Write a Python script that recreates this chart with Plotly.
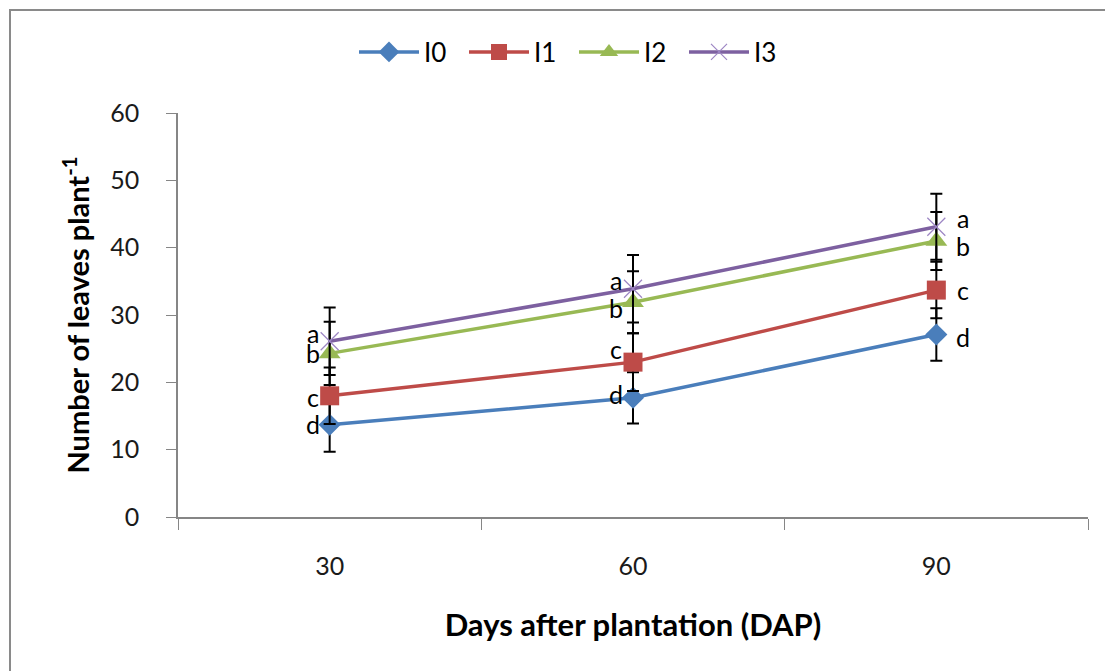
import plotly.graph_objects as go

days = ["30", "60", "90"]
series_names = ["I0", "I1", "I2", "I3"]
i0 = [13.7, 17.7, 27.1]
i1 = [18.0, 23.0, 33.7]
i2 = [24.3, 31.9, 41.0]
i3 = [26.1, 33.9, 43.1]
i0_err = [4.0, 3.8, 3.9]
i1_err = [4.2, 4.3, 4.2]
i2_err = [4.7, 4.6, 4.3]
i3_err = [5.0, 5.0, 4.9]
letters = {"I0": ["d", "d", "d"], "I1": ["c", "c", "c"], "I2": ["b", "b", "b"], "I3": ["a", "a", "a"]}

values = {"I0": i0, "I1": i1, "I2": i2, "I3": i3}
errors = {"I0": i0_err, "I1": i1_err, "I2": i2_err, "I3": i3_err}
colors = {"I0": "#4A7EBB", "I1": "#BE4B48", "I2": "#98B954", "I3": "#7D60A0"}
markers = {
    "I0": dict(symbol="diamond", size=17),
    "I1": dict(symbol="square", size=19),
    "I2": dict(symbol="triangle-up", size=19),
    "I3": dict(symbol="x-thin", size=18, line=dict(width=1.2, color="#9D86C4")),
}
# label pixel offsets (style only)
lab_dx = [-17, -17, 27]
lab_dy = {"I0": [1, 4, -2], "I1": [-1, 13, 0], "I2": [0, -6, -5], "I3": [8, 9, 9]}

FONT = "Lato, Open Sans, sans-serif"

fig = go.Figure()
for name in series_names:
    m = dict(markers[name])
    m["color"] = colors[name]
    if "line" not in m:
        m["line"] = dict(width=0)
    fig.add_trace(go.Scatter(
        x=days, y=values[name], name=name, mode="lines+markers",
        line=dict(color=colors[name], width=3.5),
        marker=m,
        error_y=dict(type="data", array=errors[name], color="black", thickness=2, width=6),
    ))

for name in series_names:
    for k in range(len(days)):
        fig.add_annotation(x=k, y=values[name][k], text=letters[name][k], showarrow=False,
                           xshift=lab_dx[k], yshift=lab_dy[name][k],
                           font=dict(size=25, color="black", family=FONT))

# page pixel = figure pixel + 8 (body margin)
OFF = 8
W, H = 1113 - OFF, 671 - OFF
L, T = 178 - OFF, 113 - OFF
R = W - (1088 - OFF)
B = H - (517 - OFF)
pw, ph = W - L - R, H - T - B

def px(x):
    return (x - OFF - L) / pw

def py(y):
    return (H - B - (y - OFF)) / ph

fig.add_shape(type="rect", xref="paper", yref="paper",
              x0=px(10), x1=px(1130), y0=py(10), y1=py(700),
              line=dict(color="#8A8A8A", width=2), fillcolor="rgba(0,0,0,0)", layer="below")

fig.update_layout(
    width=W, height=H,
    margin=dict(l=L, r=R, t=T, b=B),
    paper_bgcolor="white", plot_bgcolor="white",
    font=dict(family=FONT, size=25, color="#1a1a1a"),
    showlegend=True,
    legend=dict(orientation="h", x=px(354), y=py(52), xanchor="left", yanchor="middle",
                font=dict(size=26, color="black"), itemwidth=60, entrywidth=35,
                entrywidthmode="pixels", bgcolor="rgba(0,0,0,0)"),
    xaxis=dict(type="category", tickson="boundaries", ticks="outside", ticklen=11,
               tickcolor="#868686", showline=True, linecolor="#868686", linewidth=1.5,
               showgrid=False, zeroline=False, range=[-0.5, 2.5],
               ticklabelstandoff=26,
               tickfont=dict(size=25, color="#1a1a1a"),
               title=dict(text="<b>Days after plantation (DAP)</b>", font=dict(size=31, color="black"),
                          standoff=36)),
    yaxis=dict(range=[0, 60], dtick=10, ticks="outside", ticklen=10, tickcolor="#868686",
               showline=True, linecolor="#868686", linewidth=1.5, showgrid=False, zeroline=False,
               ticklabelstandoff=22,
               tickfont=dict(size=25, color="#1a1a1a"),
               title=dict(text="<b>Number of leaves plant<sup>-1</sup></b>", font=dict(size=29, color="black"),
                          standoff=12)),
)

fig.write_html("out.html")
